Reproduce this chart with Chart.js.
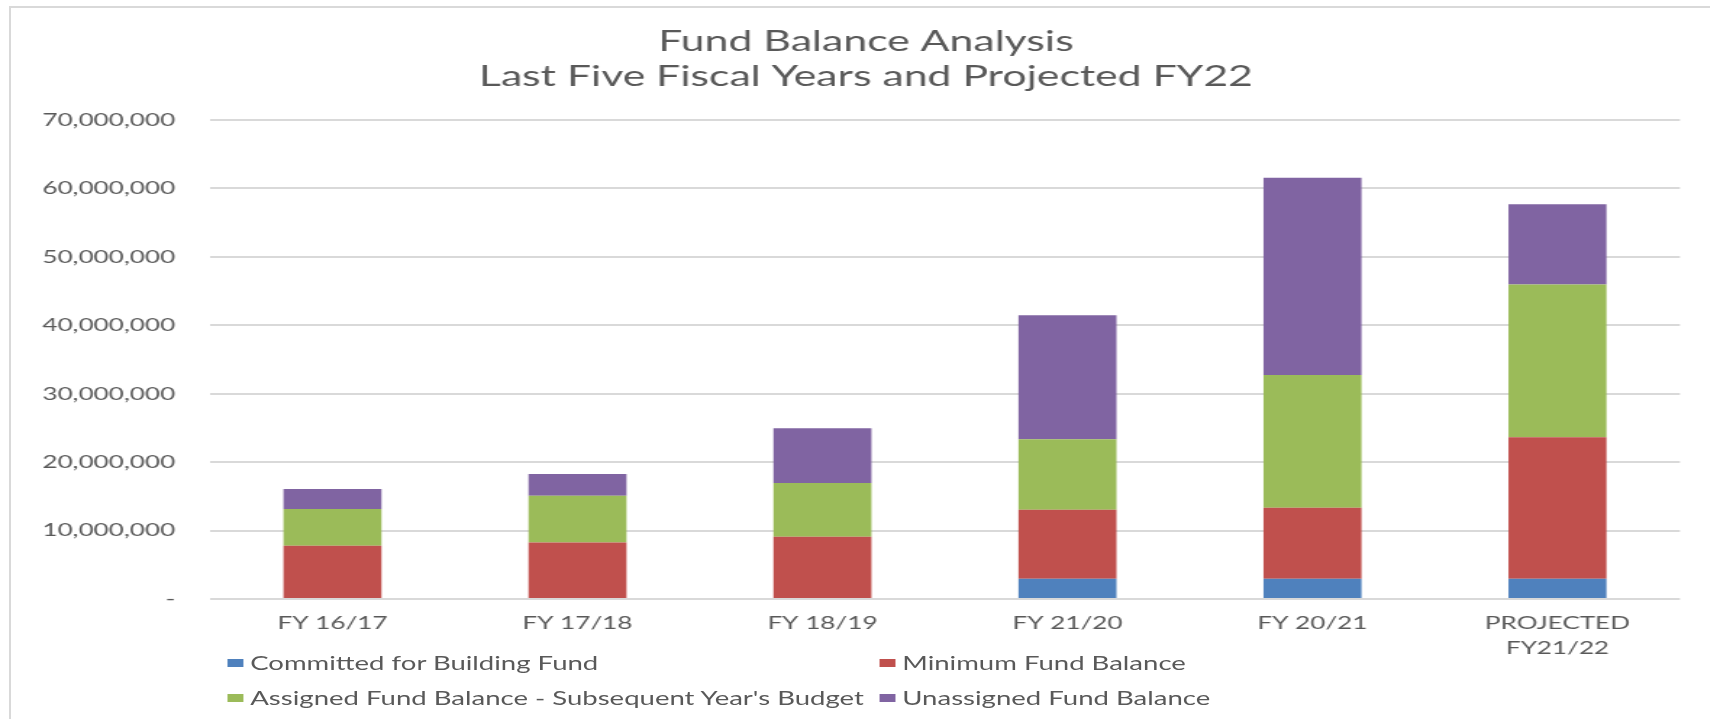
<!DOCTYPE html>
<html>
<head>
<meta charset="utf-8">
<script src="https://cdn.jsdelivr.net/npm/chart.js@4.4.1/dist/chart.umd.min.js"></script>
<style>
  body { margin: 0; background: #fff; overflow: hidden; font-family: Lato, sans-serif; }
  #frame { position: absolute; left: 9px; top: 6px; width: 1750px; height: 760px;
           border-left: 2.5px solid #d9d9d9; border-top: 2.5px solid #d9d9d9; }
  /* the reference text is horizontally stretched, so the whole chart is drawn narrower and scaled */
  #wrap { position: absolute; left: 0; top: 0; width: 1180px; height: 719px;
          transform: scaleX(1.449); transform-origin: 0 0; }
  #legend { position: absolute; left: 156.7px; top: 645px;
            display: grid; grid-template-columns: 450px 450px; grid-auto-rows: 35px;
            color: #595959; font-size: 19px; }
  .item { display: flex; align-items: center; white-space: nowrap; }
  .box { width: 11px; height: 8px; margin-right: 5px; }
</style>
</head>
<body>
<div id="frame"></div>
<div id="wrap">
  <canvas id="grafica" width="1180" height="719"></canvas>
  <div id="legend"></div>
</div>
<script>
const titulo = ['Fund Balance Analysis', 'Last Five Fiscal Years and Projected FY22'];
const anios = ['FY 16/17', 'FY 17/18', 'FY 18/19', 'FY 21/20', 'FY 20/21', ['PROJECTED', 'FY21/22']];
const series = ['Committed for Building Fund', 'Minimum Fund Balance',
                "Assigned Fund Balance - Subsequent Year's Budget", 'Unassigned Fund Balance'];
const comprometido = [0, 0, 0, 2950000, 2950000, 2950000];
const minimo = [7800000, 8270000, 9100000, 10100000, 10400000, 20700000];
const asignado = [5370000, 6830000, 7850000, 10300000, 19400000, 22300000];
const noAsignado = [2920000, 3170000, 8000000, 18100000, 28800000, 11750000];
const colores = ['#4f81bd', '#c0504d', '#9bbb59', '#8064a2'];
const valores = [comprometido, minimo, asignado, noAsignado];

Chart.defaults.font.family = 'Lato, sans-serif';
Chart.defaults.color = '#595959';

// el titulo en la original esta centrado en todo el cuadro, no en el canvas visible
const moverTitulo = {
    id: 'moverTitulo',
    afterLayout(chart) {
        if (chart.titleBlock) chart.titleBlock.left += 35.8;
    }
};

const ctx = document.getElementById('grafica').getContext('2d');
const ch = new Chart(ctx, {
    type: 'bar',
    data: {
        labels: anios,
        datasets: series.map((s, i) => ({
            label: s,
            data: valores[i],
            backgroundColor: colores[i],
            borderWidth: 0,
            categoryPercentage: 0.8,
            barPercentage: 0.5
        }))
    },
    options: {
        responsive: false,
        animation: false,
        layout: { padding: { left: 0, right: 20.6, top: 0, bottom: 0 } },
        plugins: {
            legend: { display: false },
            tooltip: { enabled: false },
            title: {
                display: true,
                text: titulo,
                color: '#595959',
                font: { size: 29.5, weight: 'normal', lineHeight: 35.6 / 29.5 },
                padding: { top: 23.4, bottom: 25.4 }
            }
        },
        scales: {
            x: {
                stacked: true,
                grid: { display: false, drawTicks: false },
                border: { display: false },
                ticks: { color: '#595959', padding: 12, maxRotation: 0,
                         font: { size: 18, lineHeight: 25 / 18 } },
                afterFit: function(scale) { scale.height = 120; }
            },
            y: {
                stacked: true,
                min: 0,
                max: 70000000,
                grid: { color: '#d9d9d9', lineWidth: 2, drawTicks: false },
                border: { display: false },
                ticks: {
                    stepSize: 10000000,
                    padding: 24,
                    color: '#595959',
                    font: { size: 18 },
                    callback: function(value) {
                        if (value === 0) return '-';
                        return value.toLocaleString('en-US');
                    }
                },
                afterFit: function(scale) { scale.width = 144.9; }
            }
        }
    },
    plugins: [moverTitulo]
});

// leyenda en dos columnas como en la original
const leyenda = document.getElementById('legend');
ch.data.datasets.forEach(ds => {
    const item = document.createElement('div');
    item.className = 'item';
    const box = document.createElement('span');
    box.className = 'box';
    box.style.background = ds.backgroundColor;
    item.appendChild(box);
    item.appendChild(document.createTextNode(ds.label));
    leyenda.appendChild(item);
});
</script>
</body>
</html>
